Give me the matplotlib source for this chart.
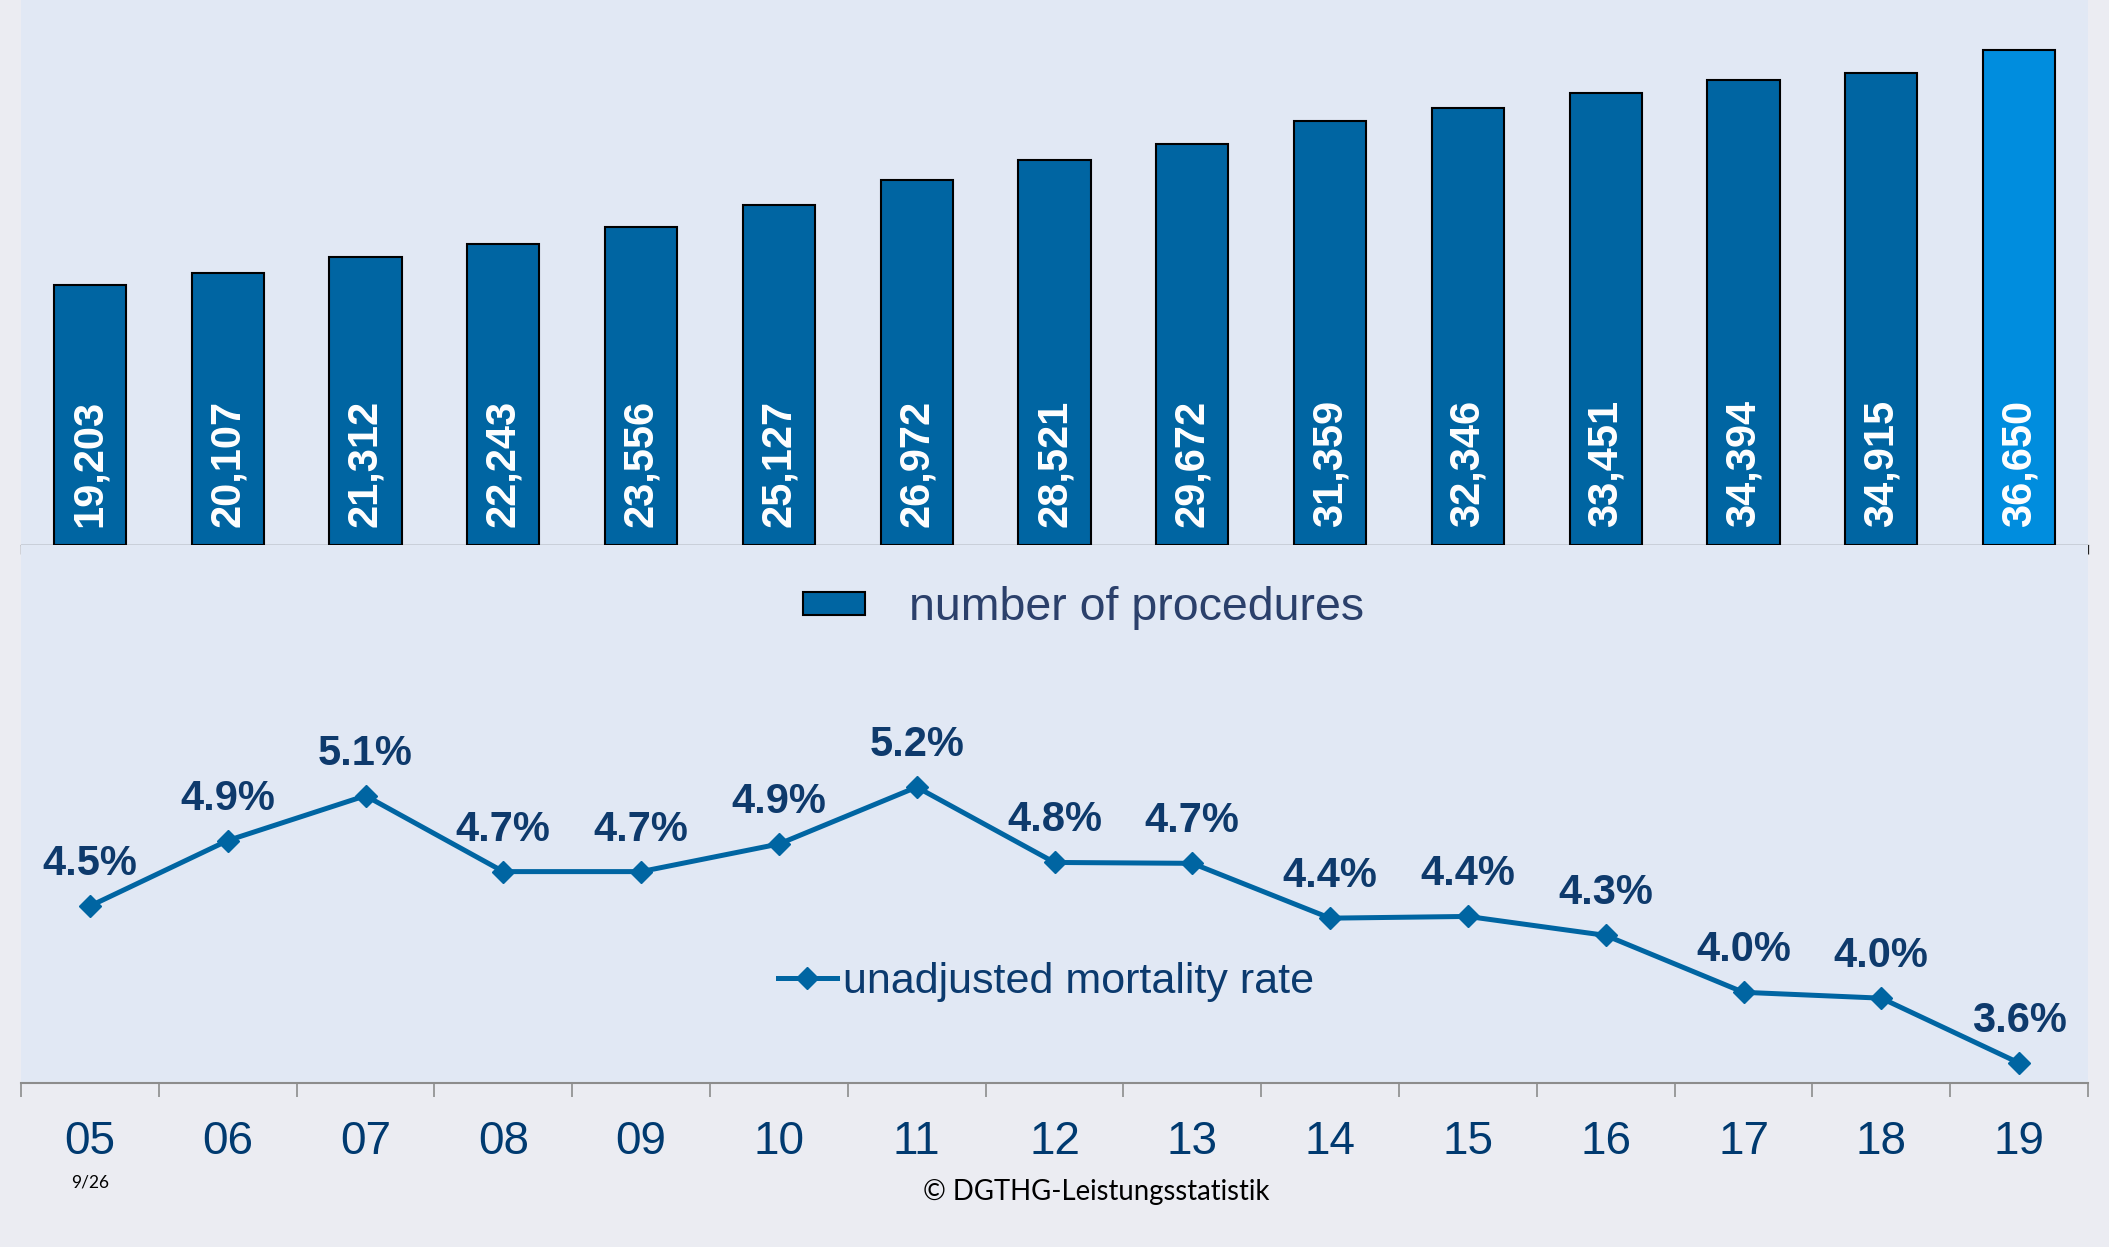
import matplotlib
matplotlib.use("Agg")
import matplotlib.pyplot as plt
import numpy as np

# ---- data ----
years = ["05", "06", "07", "08", "09", "10", "11", "12", "13", "14", "15", "16", "17", "18", "19"]
procedures = [19203, 20107, 21312, 22243, 23556, 25127, 26972, 28521, 29672, 31359, 32346, 33451, 34394, 34915, 36650]
mortality = [4.50, 4.88, 5.14, 4.70, 4.70, 4.86, 5.19, 4.753, 4.748, 4.43, 4.44, 4.33, 4.00, 3.966, 3.59]
bar_legend_label = "number of procedures"
line_legend_label = "unadjusted mortality rate"
footer_text = "\u00a9 DGTHG-Leistungsstatistik"
page_text = "9/26"

# ---- style ----
W, H = 2109, 1247
DPI = 100
outer_bg = "#EBECF2"
panel_bg = "#E1E8F4"
bar_color = "#0065A2"
bar_last_color = "#008DDE"
line_color = "#0065A2"
label_color = "#0E3A6C"
tick_color = "#003A70"
legend1_color = "#2B406B"
legend2_color = "#0B3A6E"
FONT = ["Liberation Sans", "DejaVu Sans"]

fig = plt.figure(figsize=(W / DPI, H / DPI), dpi=DPI, facecolor=outer_bg)

def px_axes(x0, y0, x1, y1):
    return [x0 / W, 1 - y1 / H, (x1 - x0) / W, (y1 - y0) / H]

panel_left, panel_right = 21, 2088
bar_base = 544.5
line_base = 1083

x = np.arange(len(years))

# ---- bar chart ----
axb = fig.add_axes(px_axes(panel_left, 0, panel_right, bar_base))
axb.set_facecolor(panel_bg)
colors = [bar_color] * (len(years) - 1) + [bar_last_color]
bars = axb.bar(x, procedures, width=0.525, color=colors, edgecolor="black", linewidth=1.5, zorder=3)
axb.set_xlim(-0.5, len(years) - 0.5)
axb.set_ylim(0, 40345)
for s in ["top", "left", "right"]:
    axb.spines[s].set_visible(False)
axb.spines["bottom"].set_color("#222222")
axb.spines["bottom"].set_linewidth(0.9)
axb.set_yticks([])
axb.set_xticks(np.arange(-0.5, len(years), 1.0))
axb.set_xticklabels([])
axb.tick_params(axis="x", length=6.5, width=0.9, color="#222222", direction="out")
for xi, v in zip(x, procedures):
    axb.annotate(f"{v:,}", (xi, 0), xytext=(0, 12.5), textcoords="offset points",
                 rotation=90, ha="center", va="bottom", color="white",
                 fontsize=30, fontweight="bold", family=FONT, zorder=4)

# ---- line chart ----
axl = fig.add_axes(px_axes(panel_left, bar_base, panel_right, line_base))
axl.set_facecolor(panel_bg)
line, = axl.plot(x, mortality, color=line_color, linewidth=3.6, marker="D", markersize=11,
                 markerfacecolor=line_color, markeredgecolor=line_color, zorder=3)
axl.set_xlim(-0.5, len(years) - 0.5)
axl.set_ylim(3.474, 6.597)
for s in ["top", "left", "right"]:
    axl.spines[s].set_visible(False)
axl.spines["bottom"].set_color("#8C8C8C")
axl.spines["bottom"].set_linewidth(1.5)
axl.set_yticks([])
axl.set_xticks(x)
axl.set_xticklabels(years, fontsize=33, color=tick_color, family=FONT)
axl.tick_params(axis="x", which="major", length=0, pad=27)
axl.set_xticks(np.arange(-0.5, len(years), 1.0), minor=True)
axl.tick_params(axis="x", which="minor", length=10, width=1.2, color="#8C8C8C", direction="out")
for xi, v in zip(x, mortality):
    axl.annotate(f"{v:.1f}%", (xi, v), xytext=(0, 22.3), textcoords="offset points",
                 ha="center", va="baseline", color=label_color,
                 fontsize=30, fontweight="bold", family=FONT, zorder=4)

# ---- legends ----
leg1 = fig.legend([bars], [bar_legend_label], loc="center left",
                  bbox_to_anchor=(803 / W, 1 - 608 / H), frameon=False,
                  borderpad=0, borderaxespad=0, handlelength=1.33, handleheight=0.40,
                  handletextpad=0.95, prop={"family": FONT, "size": 33.5})
for t in leg1.get_texts():
    t.set_color(legend1_color)

leg2 = fig.legend([line], [line_legend_label], loc="center left",
                  bbox_to_anchor=(778 / W, 1 - 982 / H), frameon=False,
                  borderpad=0, borderaxespad=0, handlelength=1.37,
                  handletextpad=0.14, numpoints=1, prop={"family": FONT, "size": 31})
for t in leg2.get_texts():
    t.set_color(legend2_color)

# ---- footer ----
fig.text(1096 / W, 1 - 1200 / H, footer_text, ha="center", va="baseline",
         fontsize=19.8, family=["Lato", "DejaVu Sans"], color="black")
fig.text(90 / W, 1 - 1187 / H, page_text, ha="center", va="baseline",
         fontsize=12.5, family=["Lato", "DejaVu Sans"], color="black")

fig.savefig("out.png", dpi=DPI, facecolor=outer_bg)
